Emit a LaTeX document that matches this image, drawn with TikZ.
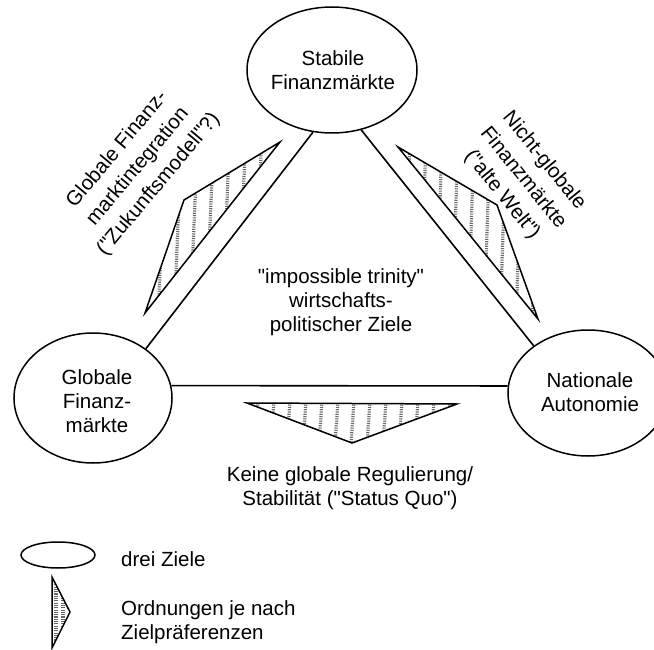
\documentclass[tikz,border=0pt]{standalone}
\usepackage{fontspec}
\setmainfont{Liberation Sans}[Ligatures=TeXOff]
\usetikzlibrary{shapes.geometric}
\tikzset{
  goal/.style={ellipse, draw, line width=1.5pt, inner sep=0pt},
  lbl/.style={align=center, font=\fontsize{20.5}{24}\selectfont, inner sep=0pt},
  rlbl/.style={align=center, font=\fontsize{20.5}{27}\selectfont, inner sep=0pt},
  lgd/.style={align=left, anchor=west, font=\fontsize{20.5}{24}\selectfont, inner sep=0pt},
  edge/.style={line width=1.6pt},
  shp/.style={line width=1.5pt, line join=miter},
  stripe/.style={draw=black!60, line width=3.2pt, dash pattern=on 1.1pt off 1.2pt},
}
\begin{document}
\begin{tikzpicture}[x=1pt,y=-1pt]
\useasboundingbox (0,0) rectangle (654,650);
\clip (0,0) rectangle (654,650);

% goals
\node[goal, minimum width=170pt, minimum height=126pt] (top) at (332,70) {};
\node[goal, minimum width=158pt, minimum height=130pt] (left) at (93,398) {};
\node[goal, minimum width=160pt, minimum height=126pt] (right) at (588,393) {};
\node[lbl] (toptxt) at (333,70) {Stabile\\Finanzmärkte};
\node[lbl] (lefttxt) at (97,401) {Globale\\Finanz-\\märkte};
\node[lbl] (righttxt) at (590,392) {Nationale\\Autonomie};

% triangle edges
\draw[edge] (top.253) -- (left.43);
\draw[edge] (top.296) -- (right.139);
\draw[edge] (left.9) -- (right.175);

% left order shape
\begin{scope}
\clip (145,313) -- (184,200) -- (280,142) -- cycle;
\foreach \x in {150,166,...,290} \draw[stripe] (\x,130) -- (\x-8,320);
\end{scope}
\draw[shp] (145,313) -- (184,200) -- (280,142) -- cycle;

% right order shape
\begin{scope}
\clip (398,147) -- (497,205) -- (538,319) -- cycle;
\foreach \x in {410,426,...,545} \draw[stripe] (\x,140) -- (\x-6,325);
\end{scope}
\draw[shp] (398,147) -- (497,205) -- (538,319) -- cycle;

% bottom order shape
\begin{scope}
\clip (247,403) -- (457,404) -- (352,443) -- cycle;
\foreach \x in {258,274,...,460} \draw[stripe] (\x,400) -- (\x-3,445);
\end{scope}
\draw[shp] (247,403) -- (457,404) -- (352,443) -- cycle;

% labels
\node[rlbl, rotate=50] (lt) at (138,167) {Globale Finanz-\\marktintegration\\("Zukunftsmodell"?)};
\node[rlbl, rotate=-51] (rt) at (523,178) {Nicht-globale\\Finanzmärkte\\("alte Welt")};
\node[lbl] (mid) at (341,302) {"impossible trinity"\\wirtschafts-\\politischer Ziele};
\node[lbl] (bot) at (350,488) {Keine globale Regulierung/\\Stabilität ("Status Quo")};

% legend
\node[goal, minimum width=74pt, minimum height=26pt] (lgell) at (58,555) {};
\node[lgd] (lgtxt1) at (121,559) {drei Ziele};
\begin{scope}
\clip (52,577) -- (70,612) -- (52,648) -- cycle;
\foreach \x in {56,63} \draw[stripe] (\x,575) -- (\x,650);
\end{scope}
\draw[shp] (52,577) -- (70,612) -- (52,648) -- cycle;
\node[lgd] (lgtxt2) at (121,622) {Ordnungen je nach\\Zielpräferenzen};
\end{tikzpicture}
\end{document}
